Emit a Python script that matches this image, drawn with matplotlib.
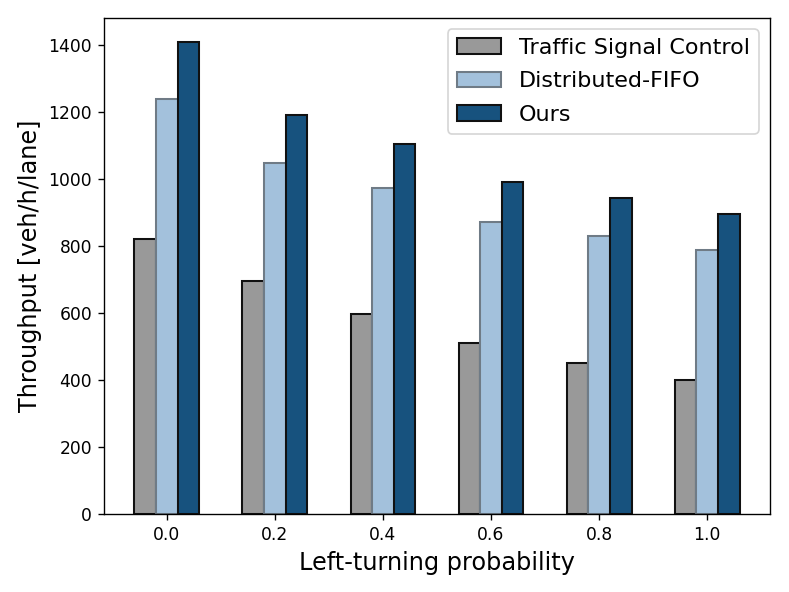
import numpy as np
import matplotlib
matplotlib.use('Agg')
import matplotlib.pyplot as plt

probs = ['0.0', '0.2', '0.4', '0.6', '0.8', '1.0']
tsc = [820, 695, 598, 510, 450, 400]
fifo = [1240, 1048, 972, 871, 830, 788]
ours = [1410, 1192, 1105, 990, 943, 895]

x = np.arange(len(probs))
w = 0.2

dpi = 789 / 6.4
fig = plt.figure(figsize=(6.4, 592 / dpi), dpi=dpi)
ax = fig.add_axes([104 / 789, 1 - 514 / 592, (770 - 104) / 789, (514 - 18) / 592])

ax.bar(x - w, tsc, w, color='#999999', edgecolor='#111111', linewidth=1.2,
       label='Traffic Signal Control')
ax.bar(x, fifo, w, color='#a3c1dc', edgecolor='#6f7b86', linewidth=1.2,
       label='Distributed-FIFO')
ax.bar(x + w, ours, w, color='#17527e', edgecolor='#111111', linewidth=1.2,
       label='Ours')

ax.set_xticks(x)
ax.set_xticklabels(probs)
ax.set_xlabel('Left-turning probability', fontsize=14)
ax.set_ylabel('Throughput [veh/h/lane]', fontsize=14)
ax.set_yticks(range(0, 1401, 200))
ax.legend(fontsize=13, loc='upper right', labelspacing=0.6)

fig.savefig('out.png', dpi=dpi)
